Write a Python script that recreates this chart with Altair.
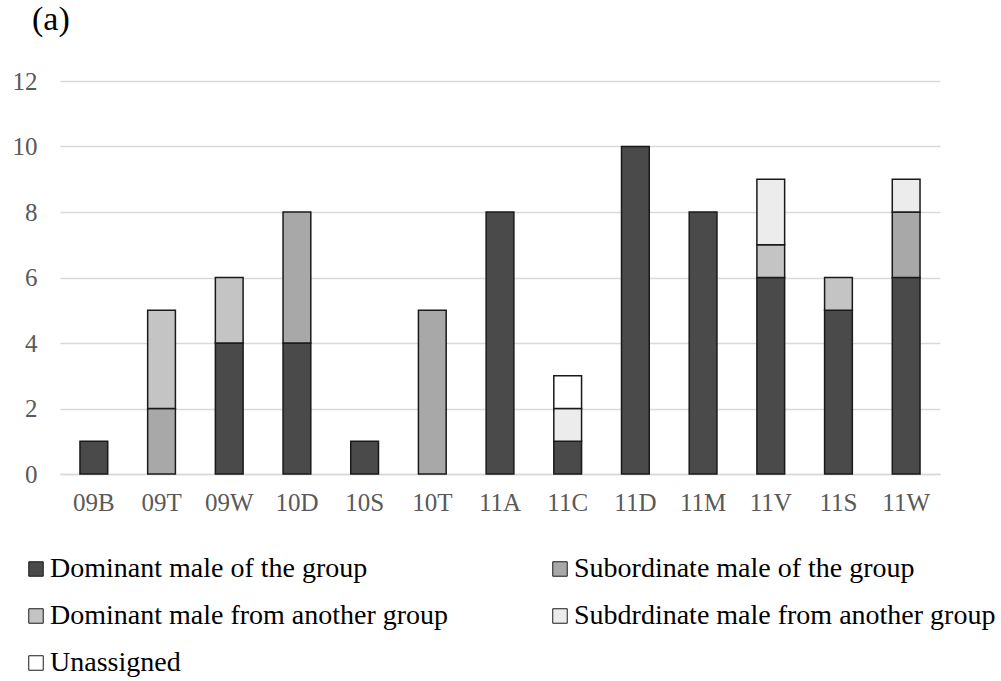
import altair as alt
import pandas as pd

cats = ["09B", "09T", "09W", "10D", "10S", "10T", "11A", "11C", "11D", "11M", "11V", "11S", "11W"]
dom_group = [1, 0, 4, 4, 1, 0, 8, 1, 10, 8, 6, 5, 6]
sub_group = [0, 2, 0, 4, 0, 5, 0, 0, 0, 0, 0, 0, 2]
dom_other = [0, 3, 2, 0, 0, 0, 0, 0, 0, 0, 1, 1, 0]
sub_other = [0, 0, 0, 0, 0, 0, 0, 1, 0, 0, 2, 0, 1]
unassigned = [0, 0, 0, 0, 0, 0, 0, 1, 0, 0, 0, 0, 0]

series_names = [
    "Dominant male of the group",
    "Subordinate male of the group",
    "Dominant male from another group",
    "Subdrdinate male from another group",
    "Unassigned",
]
series_values = [dom_group, sub_group, dom_other, sub_other, unassigned]
series_fills = ["#4a4a4a", "#a8a8a8", "#c4c4c4", "#ececec", "#ffffff"]

# legend lays entries out column by column: list them so rows read like the reference
legend_order = [0, 2, 4, 1, 3]
legend_names = [series_names[i] for i in legend_order]
legend_fills = [series_fills[i] for i in legend_order]

rows = []
for k, (name, vals) in enumerate(zip(series_names, series_values)):
    for c, v in zip(cats, vals):
        rows.append({"group": c, "series": name, "order": k, "value": v})
df = pd.DataFrame(rows)

W, H = 880, 393
LEFT, TOP = 60, 81

chart = (
    alt.Chart(df)
    .transform_filter("datum.value > 0")
    .mark_bar(stroke="#1a1a1a", strokeWidth=1.5)
    .encode(
        x=alt.X(
            "group:N",
            sort=cats,
            scale=alt.Scale(paddingInner=0.59, paddingOuter=0.295),
            axis=alt.Axis(
                title=None,
                labelAngle=0,
                ticks=False,
                domainColor="#d9d9d9",
                domainWidth=1.5,
                labelFont="Liberation Serif",
                labelFontSize=25,
                labelColor="#595959",
                labelPadding=16,
            ),
        ),
        y=alt.Y(
            "value:Q",
            stack="zero",
            scale=alt.Scale(domain=[0, 12]),
            axis=alt.Axis(
                title=None,
                values=[0, 2, 4, 6, 8, 10, 12],
                ticks=False,
                domain=False,
                gridColor="#d9d9d9",
                gridWidth=1.5,
                labelFont="Liberation Serif",
                labelFontSize=25,
                labelColor="#595959",
                labelPadding=23,
            ),
        ),
        fill=alt.Fill(
            "series:N",
            scale=alt.Scale(domain=legend_names, range=legend_fills),
            legend=alt.Legend(
                title=None,
                orient="none",
                legendX=-38,
                legendY=474,
                columns=2,
                columnPadding=97,
                rowPadding=19,
                symbolType="square",
                symbolSize=210,
                symbolStrokeColor="#1a1a1a",
                symbolStrokeWidth=1,
                labelFont="Liberation Serif",
                labelFontSize=28,
                labelColor="#000000",
                labelOffset=0,
                labelLimit=700,
            ),
        ),
        order=alt.Order("order:Q", sort="ascending"),
    )
    .properties(
        width=W,
        height=H,
        title=alt.TitleParams(
            "(a)",
            anchor="start",
            frame="group",
            font="Liberation Serif",
            fontSize=34,
            fontWeight="normal",
            color="#000000",
            dx=-28,
            offset=5,
            baseline="alphabetic",
        ),
        autosize=alt.AutoSizeParams(type="none"),
        padding={"left": LEFT, "top": TOP, "right": 1001 - LEFT - W, "bottom": 681 - TOP - H},
        background="white",
    )
    .configure_view(stroke=None)
)

chart.save("out.html", embed_options={"renderer": "svg", "actions": False})
